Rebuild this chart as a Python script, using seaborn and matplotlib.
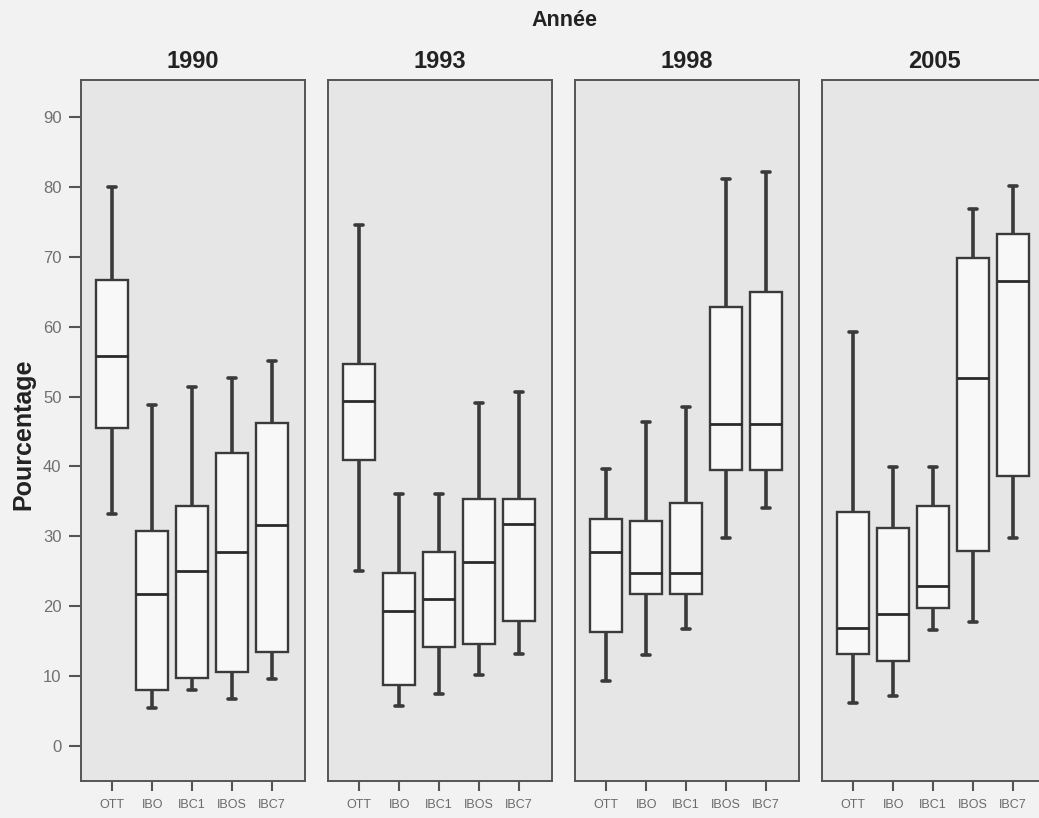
import numpy as np
import pandas as pd
import matplotlib
matplotlib.use("Agg")
import matplotlib.pyplot as plt
import seaborn as sns

years = ["1990", "1993", "1998", "2005"]
groups = ["OTT", "IBO", "IBC1", "IBOS", "IBC7"]

# five-number summaries, one row per year, one column per group
whisker_low = [
    [33.2, 5.5, 8.0, 6.8, 9.6],
    [25.1, 5.8, 7.4, 10.2, 13.2],
    [9.3, 13.0, 16.7, 29.8, 34.1],
    [6.2, 7.2, 16.6, 17.7, 29.8],
]
quart_low = [
    [45.5, 8.0, 9.7, 10.6, 13.5],
    [41.0, 8.7, 14.2, 14.6, 17.9],
    [16.3, 21.8, 21.8, 39.5, 39.5],
    [13.1, 12.2, 19.8, 27.9, 38.6],
]
medians = [
    [55.8, 21.7, 25.0, 27.7, 31.6],
    [49.4, 19.3, 21.0, 26.4, 31.8],
    [27.7, 24.8, 24.8, 46.1, 46.1],
    [16.9, 18.9, 22.9, 52.6, 66.6],
]
quart_high = [
    [66.7, 30.8, 34.3, 41.9, 46.2],
    [54.7, 24.8, 27.7, 35.4, 35.4],
    [32.5, 32.2, 34.8, 62.8, 64.9],
    [33.5, 31.2, 34.4, 69.9, 73.3],
]
whisker_high = [
    [80.0, 48.8, 51.4, 52.7, 55.1],
    [74.5, 36.0, 36.0, 49.1, 50.7],
    [39.6, 46.3, 48.5, 81.1, 82.2],
    [59.3, 39.9, 39.9, 76.9, 80.1],
]

rows = []
for i, year in enumerate(years):
    for j, grp in enumerate(groups):
        for stat in (whisker_low, quart_low, medians, quart_high, whisker_high):
            rows.append({"Année": year, "Groupe": grp, "Pourcentage": stat[i][j]})
df = pd.DataFrame(rows)

sns.set_style("ticks")
plt.rcParams["font.family"] = ["Liberation Sans", "DejaVu Sans"]

W, H = 1039, 818
fig = plt.figure(figsize=(W / 100, H / 100), dpi=100, facecolor="#f2f2f2")

line_col = "#3a3a3a"
tick_col = "#555555"
lefts = [81, 328, 575, 822]
for i, (year, left) in enumerate(zip(years, lefts)):
    ax = fig.add_axes([left / W, (H - 781) / H, 224 / W, 701 / H])
    ax.set_facecolor("#e6e6e6")
    sns.boxplot(
        data=df[df["Année"] == year], x="Groupe", y="Pourcentage",
        order=groups, whis=(0, 100), width=0.8, color="#f8f8f8",
        saturation=1, linecolor=line_col, linewidth=1.7, showfliers=False,
        whiskerprops=dict(linewidth=2.6), capprops=dict(linewidth=2.6),
        medianprops=dict(linewidth=2.0, color="#2a2a2a"),
        capwidths=0.2, ax=ax,
    )
    ax.set_xlim(-0.78, 4.82)
    ax.set_ylim(-5, 95.3)
    ax.set_yticks(np.arange(0, 91, 10))
    ax.set_xlabel("")
    ax.set_ylabel("")
    ax.set_title(year, fontsize=17, fontweight="bold", pad=9, color="#222222")
    for sp in ax.spines.values():
        sp.set_visible(True)
        sp.set_color(tick_col)
        sp.set_linewidth(1.4)
    ax.tick_params(axis="x", length=7, width=1.5, color=tick_col,
                   labelcolor="#6a6a6a", pad=6)
    for lab in ax.get_xticklabels():
        lab.set_family(["Liberation Sans Narrow", "Liberation Sans"])
        lab.set_fontsize(9)
    if i == 0:
        ax.tick_params(axis="y", length=9, width=1.5, color=tick_col,
                       labelsize=12, labelcolor="#707070", pad=5)
    else:
        ax.tick_params(axis="y", left=False, labelleft=False)

fig.text(564 / W, 1 - 21 / H, "Année", ha="center", va="center",
         fontsize=15.5, fontweight="bold", color="#222222")
fig.text(23 / W, 1 - 434 / H, "Pourcentage", ha="center", va="center",
         rotation=90, fontsize=18, fontweight="bold", color="#222222")

fig.savefig("out.png", dpi=100, facecolor=fig.get_facecolor())
